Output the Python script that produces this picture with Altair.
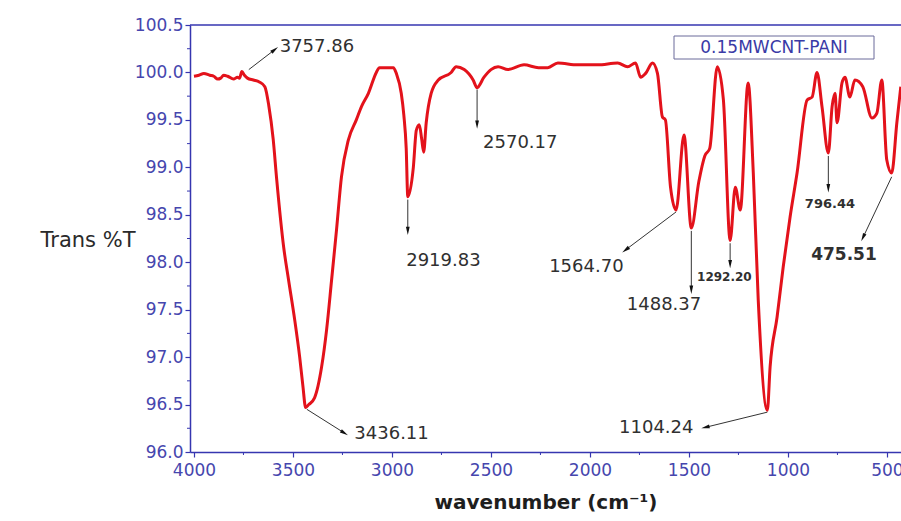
import math
import altair as alt
import pandas as pd

# ---- spectrum ----
wavenumber = [4000, 3975, 3950, 3920, 3900, 3880, 3865, 3850, 3830, 3800, 3780, 3770, 3758, 3745,
              3730, 3700, 3670, 3642, 3622, 3600, 3582, 3547, 3522, 3491, 3466, 3450, 3436, 3420,
              3391, 3355, 3330, 3305, 3280, 3255, 3220, 3180, 3154, 3119, 3079, 3063, 2993, 2978,
              2953, 2940, 2928, 2920, 2892, 2877, 2862, 2850, 2840, 2827, 2802, 2766, 2701, 2676,
              2635, 2590, 2570, 2535, 2500, 2464, 2414, 2333, 2260, 2213, 2162, 2062, 1961, 1860,
              1810, 1770, 1744, 1719, 1684, 1659, 1634, 1619, 1593, 1565, 1525, 1488, 1450, 1420,
              1395, 1357, 1326, 1292, 1266, 1241, 1201, 1175, 1150, 1104, 1090, 1055, 1024, 989,
              954, 903, 878, 853, 828, 796, 777, 762, 752, 727, 712, 687, 662, 622, 576, 551, 526,
              501, 476, 450, 430]
transmittance = [99.96, 99.97, 99.99, 99.97, 99.96, 99.93, 99.94, 99.97, 99.96, 99.93, 99.95, 99.94,
                 100.01, 99.97, 99.94, 99.92, 99.90, 99.85, 99.65, 99.30, 98.87, 98.16, 97.81, 97.39,
                 97.00, 96.70, 96.47, 96.50, 96.57, 96.90, 97.29, 97.81, 98.34, 98.90, 99.29, 99.50,
                 99.64, 99.78, 100.00, 100.05, 100.05, 99.99, 99.78, 99.55, 99.20, 98.69, 99.00,
                 99.39, 99.45, 99.30, 99.16, 99.47, 99.78, 99.92, 100.00, 100.06, 100.03, 99.92,
                 99.84, 99.95, 100.03, 100.06, 100.03, 100.08, 100.05, 100.05, 100.10, 100.08,
                 100.08, 100.10, 100.06, 100.10, 99.95, 99.99, 100.10, 99.99, 99.53, 99.50, 98.79,
                 98.55, 99.34, 98.36, 98.85, 99.12, 99.20, 100.06, 99.71, 98.23, 98.79, 98.55, 99.89,
                 98.94, 97.60, 96.44, 96.90, 97.42, 97.95, 98.48, 98.94, 99.71, 99.74, 100.00, 99.64,
                 99.15, 99.64, 99.78, 99.47, 99.89, 99.95, 99.74, 99.92, 99.85, 99.52, 99.57, 99.92,
                 99.08, 98.94, 99.47, 99.85]

# ---- axes ----
x_ticks = [4000, 3500, 3000, 2500, 2000, 1500, 1000, 500]
x_minor = [3750, 3250, 2750, 2250, 1750, 1250, 750]
y_ticks = [96.0, 96.5, 97.0, 97.5, 98.0, 98.5, 99.0, 99.5, 100.0, 100.5]
y_minor = [96.25, 96.75, 97.25, 97.75, 98.25, 98.75, 99.25, 99.75, 100.25]

# ---- peak annotations ----
peak_labels = ["3757.86", "2919.83", "2570.17", "1564.70", "1488.37", "1292.20", "1104.24",
               "3436.11", "796.44", "475.51"]
arrow_from_x = [3723, 2920, 2570, 1565, 1488, 1292, 1104, 3430, 796, 476]
arrow_from_y = [100.03, 98.66, 99.82, 98.53, 98.33, 98.20, 96.42, 96.45, 99.12, 98.90]
arrow_to_x = [3592, 2920, 2570, 1820, 1488, 1292, 1417, 3240, 796, 621]
arrow_to_y = [100.24, 98.33, 99.45, 98.13, 97.71, 97.98, 96.26, 96.20, 98.78, 98.26]
label_x = [3567, 2928, 2540, 1830, 1626, 1321, 1477, 3190, 788, 717]
label_y = [100.27, 98.01, 99.26, 97.95, 97.55, 97.84, 96.25, 96.19, 98.61, 98.08]
label_align = ["left", "left", "left", "right", "center", "center", "right", "left", "center", "center"]
label_size = [18, 18, 18, 18, 18, 12, 18, 18, 13, 17]
label_bold = [False, False, False, False, False, True, False, False, True, True]

legend_text = "0.15MWCNT-PANI"

# ---- layout constants ----
W, H = 711, 427
PX_PER_WN = W / (4020 - 429)
PX_PER_T = H / 4.5

AXIS_BLUE = "#3636b0"
LABEL_BLUE = "#4646ae"
FONT = "DejaVu Sans"

spec = pd.DataFrame({"wn": wavenumber, "T": transmittance})

angles = []
for fx, fy, tx, ty in zip(arrow_from_x, arrow_from_y, arrow_to_x, arrow_to_y):
    dx = -(tx - fx) * PX_PER_WN
    dy = -(ty - fy) * PX_PER_T
    angles.append(math.degrees(math.atan2(dx, -dy)) % 360)

ann = pd.DataFrame({
    "label": peak_labels, "fx": arrow_from_x, "fy": arrow_from_y,
    "tx": arrow_to_x, "ty": arrow_to_y, "lx": label_x, "ly": label_y,
    "align": label_align, "size": label_size, "bold": label_bold, "angle": angles,
})

xscale = alt.Scale(domain=[429, 4020], reverse=True, nice=False, zero=False)
yscale = alt.Scale(domain=[96.0, 100.5], nice=False, zero=False)

line = alt.Chart(spec).mark_line(color="#e3121b", strokeWidth=3, clip=True,
                                 strokeJoin="round", interpolate="monotone").encode(
    x=alt.X("wn:Q", scale=xscale,
            axis=alt.Axis(values=x_ticks, format="d", title="wavenumber (cm⁻¹)",
                          titleFontSize=20, titleFontWeight="bold", titleColor="#1e1e1e",
                          titleFont=FONT, titlePadding=14, labelFontSize=17,
                          labelPadding=5, tickSize=5)),
    y=alt.Y("T:Q", scale=yscale,
            axis=alt.Axis(values=y_ticks, format=".1f", title="Trans %T",
                          titleAngle=0, titleAlign="right", titleBaseline="middle",
                          titleX=-55, titleY=H / 2 + 2, titleFontSize=21,
                          titleFontWeight="normal", titleColor="#2a2a2a", titleFont=FONT,
                          labelFontSize=17, labelPadding=2, tickSize=5)),
)

xminor = alt.Chart(pd.DataFrame({"v": x_minor})).mark_rule(
    color=AXIS_BLUE, strokeWidth=1).encode(
    x=alt.X("v:Q", scale=xscale), y=alt.value(H), y2=alt.value(H + 3))

yminor = alt.Chart(pd.DataFrame({"v": y_minor})).mark_rule(
    color=AXIS_BLUE, strokeWidth=1).encode(
    y=alt.Y("v:Q", scale=yscale), x=alt.value(-3), x2=alt.value(0))

topline = alt.Chart(alt.Data(values=[{}])).mark_rule(
    color=AXIS_BLUE, strokeWidth=1.5).encode(
    x=alt.value(0), x2=alt.value(W), y=alt.value(0))

arrows = alt.Chart(ann).mark_rule(color="#333333", strokeWidth=1).encode(
    x=alt.X("fx:Q", scale=xscale), x2="tx:Q",
    y=alt.Y("fy:Q", scale=yscale), y2="ty:Q")

heads = alt.Chart(ann).mark_point(
    shape="M0,-1L0.45,1L-0.45,1Z", filled=True, color="#111111", opacity=1, size=70).encode(
    x=alt.X("tx:Q", scale=xscale), y=alt.Y("ty:Q", scale=yscale),
    angle=alt.Angle("angle:Q", scale=None))

text_layers = []
for align in ["left", "right", "center"]:
    for bold in [False, True]:
        sub = ann[(ann["align"] == align) & (ann["bold"] == bold)]
        if len(sub) == 0:
            continue
        text_layers.append(
            alt.Chart(sub).mark_text(align=align, baseline="middle", font=FONT,
                                     fontWeight="bold" if bold else "normal",
                                     color="#303030").encode(
                x=alt.X("lx:Q", scale=xscale), y=alt.Y("ly:Q", scale=yscale),
                text="label:N", size=alt.Size("size:Q", scale=None, legend=None))
        )

legend_box = alt.Chart(alt.Data(values=[{}])).mark_rect(
    fill="white", stroke="#6a6a9a", strokeWidth=1).encode(
    x=alt.value(484), x2=alt.value(684), y=alt.value(11), y2=alt.value(34))
legend_label = alt.Chart(alt.Data(values=[{"t": legend_text}])).mark_text(
    font=FONT, fontSize=17, color="#3a3aa6", align="center", baseline="middle").encode(
    x=alt.value(584), y=alt.value(23), text="t:N")

chart = alt.layer(line, xminor, yminor, topline, arrows, heads, *text_layers,
                  legend_box, legend_label).properties(
    width=W, height=H,
    padding={"left": 190, "top": 25, "right": 0, "bottom": 69},
    autosize=alt.AutoSizeParams(type="none"),
    background="white",
).configure_view(strokeWidth=0).configure_axis(
    domainColor=AXIS_BLUE, tickColor=AXIS_BLUE, labelColor=LABEL_BLUE, labelFont=FONT,
    grid=False, domainWidth=1.5, tickWidth=1.2,
)

chart.save("out.html", embed_options={"renderer": "svg", "actions": False})
